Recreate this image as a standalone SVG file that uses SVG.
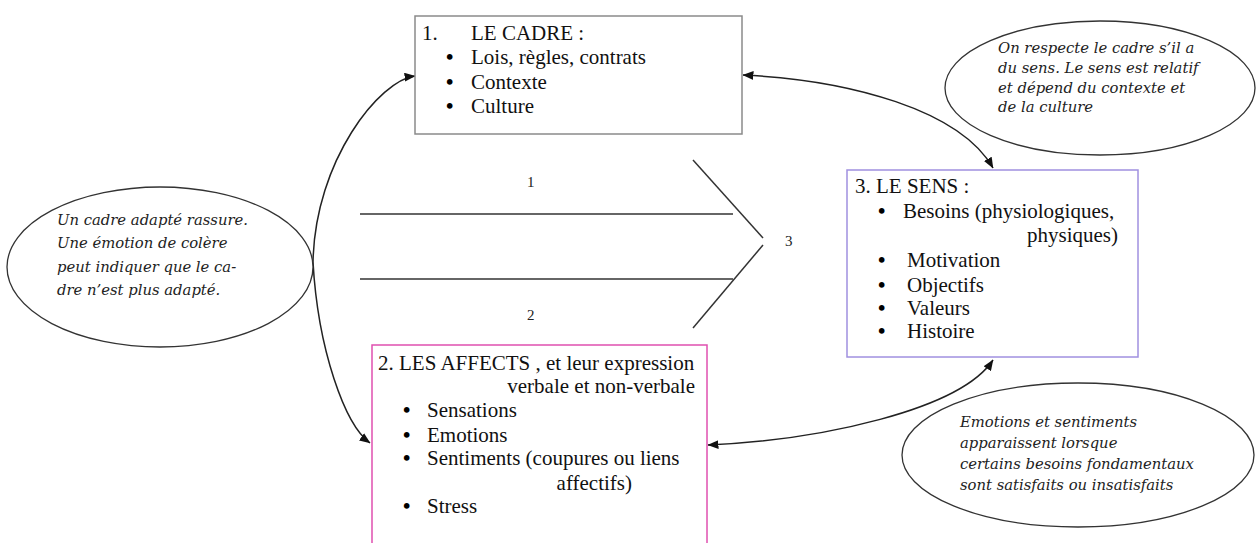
<svg xmlns="http://www.w3.org/2000/svg" width="1258" height="543" viewBox="0 0 1258 543">
<style>
.bt{font-family:"Liberation Serif","Times New Roman",serif;font-size:21px;fill:#111}
.bu{font-family:"Liberation Serif","Times New Roman",serif;font-size:21px;fill:#000;font-weight:bold}
.et{font-family:"DejaVu Serif","Liberation Serif",serif;font-style:italic;font-size:14.8px;fill:#222}
.nt{font-family:"Liberation Serif",serif;font-size:15px;fill:#222}
.ell{fill:#fff;stroke:#333;stroke-width:1.3}
.con{fill:none;stroke:#222;stroke-width:1.5}
.fb{fill:none;stroke:#333;stroke-width:1.5}
</style>
<defs>
<marker id="ah" viewBox="0 0 10 8" refX="9.5" refY="4" markerWidth="11" markerHeight="9" markerUnits="userSpaceOnUse" orient="auto-start-reverse">
<path d="M0,0 L10,4 L0,8 z" fill="#111"/>
</marker>
</defs>
<rect width="1258" height="543" fill="#fff"/>

<g id="connectors">
<path class="con" d="M415 76 C380 80 315 160 313 262 C318 350 345 425 370 443" marker-start="url(#ah)" marker-end="url(#ah)"/>
<path class="con" d="M743 75 C850 80 960 110 993 168" marker-start="url(#ah)" marker-end="url(#ah)"/>
<path class="con" d="M708 445 C820 440 960 410 993 360" marker-start="url(#ah)" marker-end="url(#ah)"/>
</g>

<g id="fishbone">
<line class="fb" x1="360" y1="214" x2="733" y2="214"/>
<line class="fb" x1="360" y1="279" x2="733" y2="279"/>
<line class="fb" x1="693" y1="160" x2="763" y2="238"/>
<line class="fb" x1="763" y1="245" x2="693" y2="328"/>
<text class="nt" x="527" y="187">1</text>
<text class="nt" x="527" y="320">2</text>
<text class="nt" x="785" y="246">3</text>
</g>

<g id="node-cadre">
<rect x="415" y="16" width="327" height="118" fill="#fff" stroke="#8a8a8a" stroke-width="1.5"/>
<text class="bt" x="422" y="40">1.</text>
<text class="bt" x="471" y="40">LE CADRE :</text>
<text class="bu" x="446" y="64">•</text><text class="bt" x="471" y="64">Lois, règles, contrats</text>
<text class="bu" x="446" y="89">•</text><text class="bt" x="471" y="89">Contexte</text>
<text class="bu" x="446" y="113">•</text><text class="bt" x="471" y="113">Culture</text>
</g>

<g id="node-sens">
<rect x="847" y="170" width="291" height="187" fill="#fff" stroke="#a090e0" stroke-width="1.5"/>
<text class="bt" x="855" y="193">3. LE SENS :</text>
<text class="bu" x="878" y="218">•</text><text class="bt" x="903" y="218">Besoins (physiologiques,</text>
<text class="bt" x="1118" y="242" text-anchor="end">physiques)</text>
<text class="bu" x="878" y="267">•</text><text class="bt" x="907" y="267">Motivation</text>
<text class="bu" x="878" y="292">•</text><text class="bt" x="907" y="292">Objectifs</text>
<text class="bu" x="878" y="315">•</text><text class="bt" x="907" y="315">Valeurs</text>
<text class="bu" x="878" y="338">•</text><text class="bt" x="907" y="338">Histoire</text>
</g>

<g id="node-affects">
<rect x="372" y="345" width="335" height="210" fill="#fff" stroke="#e050b0" stroke-width="1.5"/>
<text class="bt" x="378" y="370">2. LES AFFECTS , et leur expression</text>
<text class="bt" x="695" y="393" text-anchor="end">verbale et non-verbale</text>
<text class="bu" x="403" y="417">•</text><text class="bt" x="427" y="417">Sensations</text>
<text class="bu" x="403" y="442">•</text><text class="bt" x="427" y="442">Emotions</text>
<text class="bu" x="403" y="465">•</text><text class="bt" x="427" y="465">Sentiments (coupures ou liens</text>
<text class="bt" x="632" y="490" text-anchor="end">affectifs)</text>
<text class="bu" x="403" y="513">•</text><text class="bt" x="427" y="513">Stress</text>
</g>

<g id="note-sens">
<ellipse class="ell" cx="1100" cy="88" rx="155" ry="67"/>
<text class="et" x="998" y="53">On respecte le cadre s’il a</text>
<text class="et" x="998" y="73">du sens. Le sens est relatif</text>
<text class="et" x="998" y="93">et dépend du contexte et</text>
<text class="et" x="998" y="112">de la culture</text>
</g>

<g id="note-cadre">
<ellipse class="ell" cx="160" cy="267" rx="153" ry="80"/>
<text class="et" x="57" y="225">Un cadre adapté rassure.</text>
<text class="et" x="57" y="248">Une émotion de colère</text>
<text class="et" x="57" y="272">peut indiquer que le ca-</text>
<text class="et" x="57" y="295">dre n’est plus adapté.</text>
</g>

<g id="note-emotions">
<ellipse class="ell" cx="1078" cy="455" rx="176" ry="72"/>
<text class="et" x="960" y="427">Emotions et sentiments</text>
<text class="et" x="960" y="448">apparaissent lorsque</text>
<text class="et" x="960" y="469">certains besoins fondamentaux</text>
<text class="et" x="960" y="490">sont satisfaits ou insatisfaits</text>
</g>
</svg>
